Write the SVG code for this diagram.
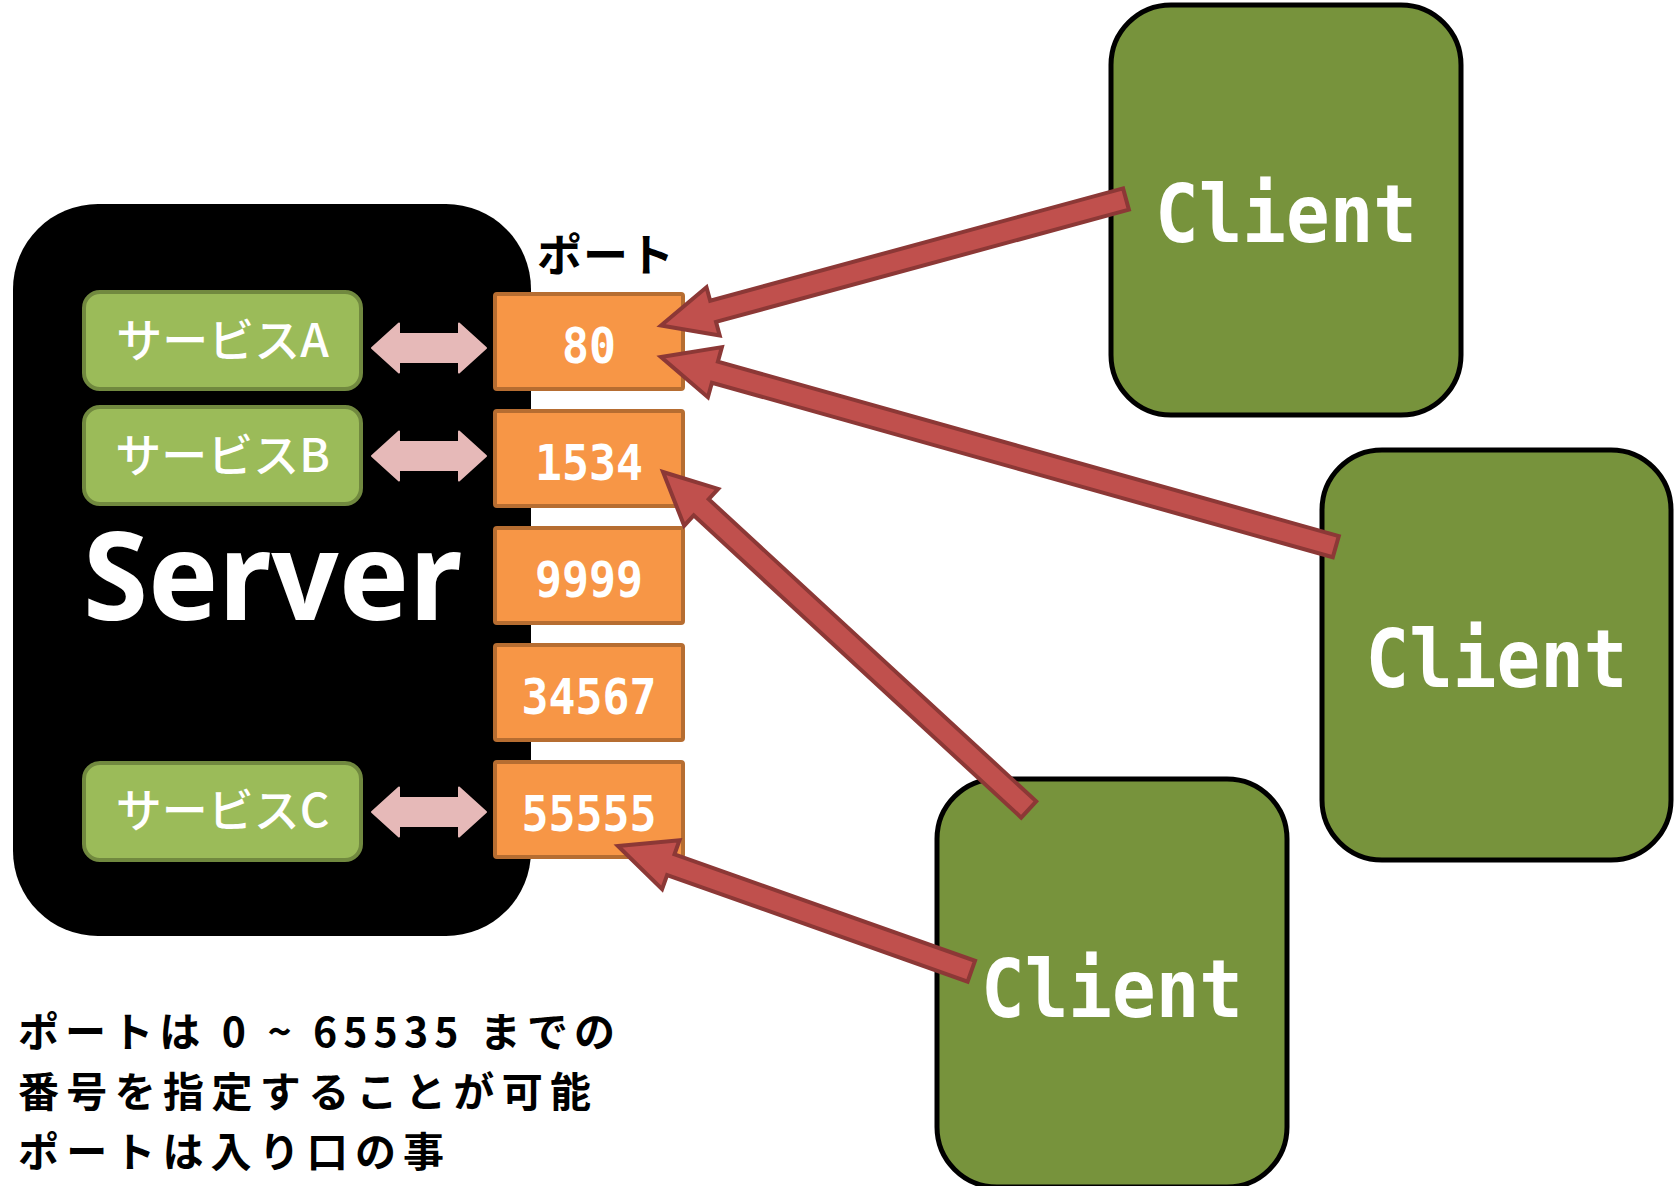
<svg xmlns="http://www.w3.org/2000/svg" width="1675" height="1186" viewBox="0 0 1675 1186">
<style>
.svc{fill:#9BBB59;stroke:#71893F;stroke-width:4}
.svct{fill:#FFFFFF;font-family:"Noto Sans CJK JP","Noto Sans",sans-serif;font-size:46px;font-weight:500;text-anchor:middle}
.port{fill:#F79646;stroke:#B66D31;stroke-width:4}
.portt{fill:#FFFFFF;font-family:"DejaVu Sans Mono",monospace;font-weight:bold;font-size:50px;text-anchor:middle}
.cli{fill:#77933C;stroke:#000000;stroke-width:5}
.clit{fill:#FFFFFF;font-family:"DejaVu Sans Mono",monospace;font-weight:bold;font-size:80px;text-anchor:middle}
.dbl{fill:#E6B9B8;stroke:#E6B9B8;stroke-width:2;stroke-linejoin:round}
.red{fill:#C0504D;stroke:#8C3836;stroke-width:4;stroke-linejoin:miter}
.jp{fill:#000000;font-family:"Noto Sans CJK JP",sans-serif;font-weight:bold;font-size:41px}
.lbl{fill:#000000;font-family:"Noto Sans CJK JP",sans-serif;font-weight:bold;font-size:45px}
</style>
<defs>
<polygon id="dblarrow" points="-57,0 -30,-24.5 -30,-14 30,-14 30,-24.5 57,0 30,24.5 30,14 -30,14 -30,24.5"/>
</defs>
<rect width="1675" height="1186" fill="#FFFFFF"/>
<g id="server">
<rect x="13" y="204" width="518" height="732" rx="85" ry="85" fill="#000000"/>
<text x="83" y="620" fill="#FFFFFF" font-family="'Noto Sans',sans-serif" font-weight="bold" font-size="122" textLength="379" lengthAdjust="spacingAndGlyphs">Server</text>
</g>
<g id="service-a">
<rect class="svc" x="84" y="292" width="277" height="97" rx="16"/>
<text class="svct" x="222.5" y="357">サービスA</text>
</g>
<g id="service-b">
<rect class="svc" x="84" y="407" width="277" height="97" rx="16"/>
<text class="svct" x="222.5" y="472">サービスB</text>
</g>
<g id="service-c">
<rect class="svc" x="84" y="763" width="277" height="97" rx="16"/>
<text class="svct" x="222.5" y="827">サービスC</text>
</g>
<g id="port-label">
<text class="lbl" x="537" y="272" textLength="137" lengthAdjust="spacing">ポート</text>
</g>
<g id="port-80">
<rect class="port" x="495" y="294" width="188" height="95" rx="2"/>
<text class="portt" x="589" y="363" textLength="54" lengthAdjust="spacingAndGlyphs">80</text>
</g>
<g id="port-1534">
<rect class="port" x="495" y="411" width="188" height="95" rx="2"/>
<text class="portt" x="589" y="480" textLength="108" lengthAdjust="spacingAndGlyphs">1534</text>
</g>
<g id="port-9999">
<rect class="port" x="495" y="528" width="188" height="95" rx="2"/>
<text class="portt" x="589" y="597" textLength="108" lengthAdjust="spacingAndGlyphs">9999</text>
</g>
<g id="port-34567">
<rect class="port" x="495" y="645" width="188" height="95" rx="2"/>
<text class="portt" x="589" y="714" textLength="135" lengthAdjust="spacingAndGlyphs">34567</text>
</g>
<g id="port-55555">
<rect class="port" x="495" y="762" width="188" height="95" rx="2"/>
<text class="portt" x="589" y="831" textLength="135" lengthAdjust="spacingAndGlyphs">55555</text>
</g>
<g id="client-1">
<rect class="cli" x="1111" y="5" width="350" height="410" rx="60"/>
<text class="clit" x="1286" y="242" textLength="262" lengthAdjust="spacingAndGlyphs">Client</text>
</g>
<g id="client-2">
<rect class="cli" x="1322" y="450" width="349" height="410" rx="60"/>
<text class="clit" x="1496.5" y="687" textLength="262" lengthAdjust="spacingAndGlyphs">Client</text>
</g>
<g id="client-3">
<rect class="cli" x="937" y="779" width="350" height="408" rx="60"/>
<text class="clit" x="1112" y="1017" textLength="262" lengthAdjust="spacingAndGlyphs">Client</text>
</g>
<g id="connectors">
<use href="#dblarrow" class="dbl" transform="translate(429,348)"/>
<use href="#dblarrow" class="dbl" transform="translate(429,456)"/>
<use href="#dblarrow" class="dbl" transform="translate(429,812)"/>
<polygon class="red" points="661,325.5 706.5,287.2 710.2,300.7 1123.1,188.4 1128.9,209.6 716,321.9 719.7,335.4"/>
<polygon class="red" points="661,357 721.9,347.1 717.9,361.6 1338.8,536.1 1332.8,557.3 711.9,382.7 707.9,397.2"/>
<polygon class="red" points="663,472 718.2,488.9 708.7,499.2 1036.2,801.4 1021.2,817.6 693.7,515.4 684.2,525.7"/>
<polygon class="red" points="618,846 679.5,840.2 674.5,854.3 975,960.8 967.6,981.6 667.1,875.1 662.1,889.2"/>
</g>
<g id="notes">
<text class="jp" x="18" y="1047" textLength="597" lengthAdjust="spacing">ポートは 0 ~ 65535 までの</text>
<text class="jp" x="18" y="1107" textLength="573" lengthAdjust="spacing">番号を指定することが可能</text>
<text class="jp" x="18" y="1167" textLength="426" lengthAdjust="spacing">ポートは入り口の事</text>
</g>
</svg>
